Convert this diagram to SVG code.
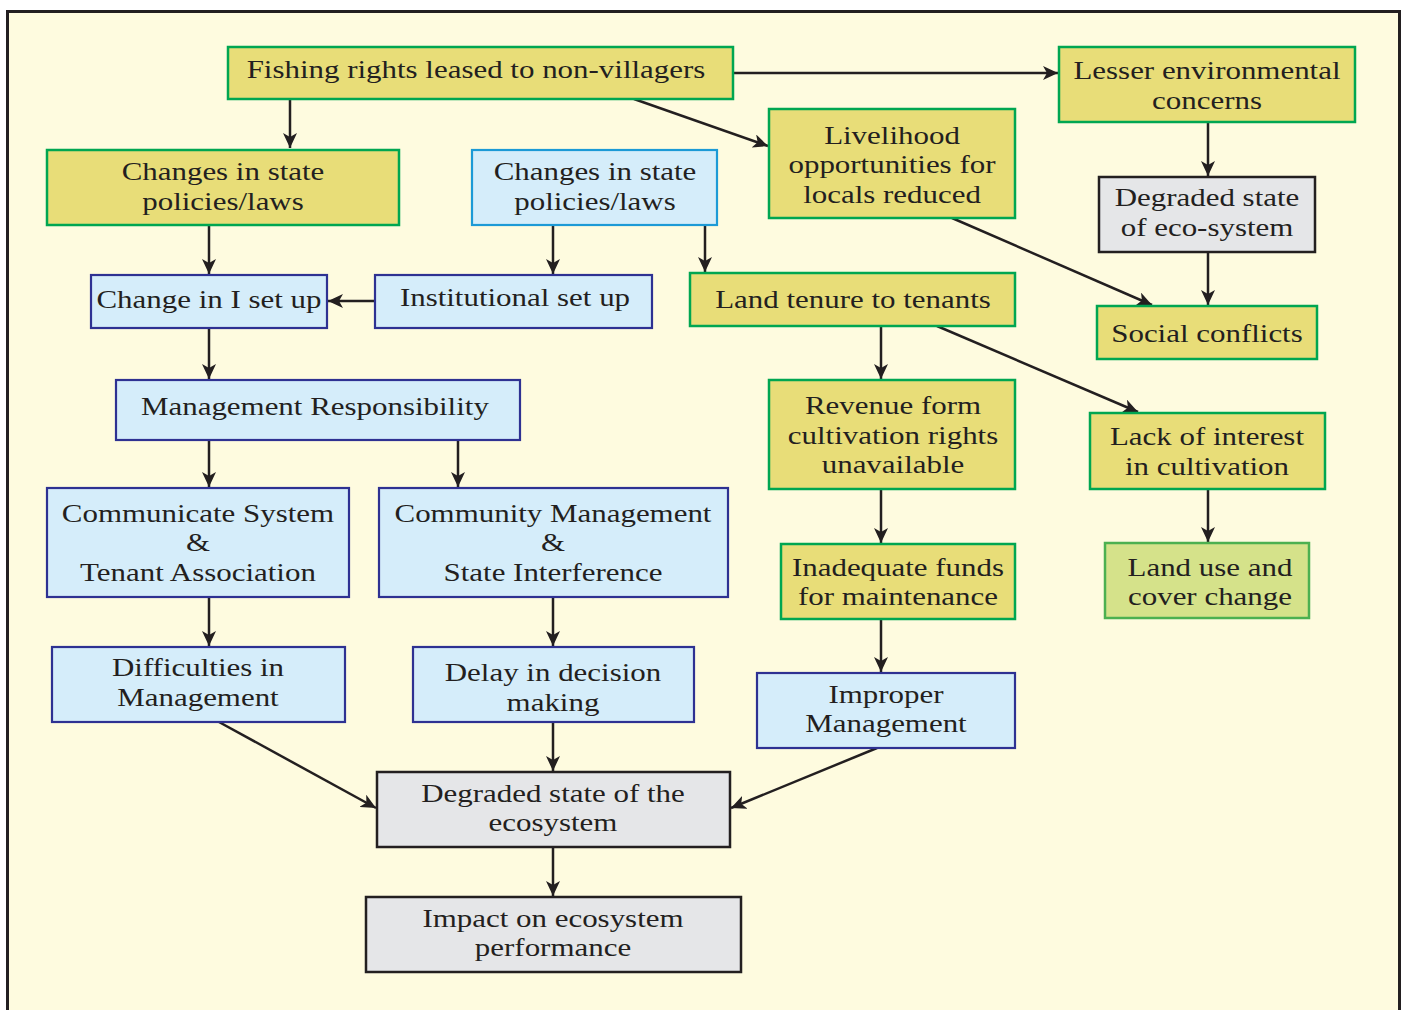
<svg xmlns="http://www.w3.org/2000/svg" width="1403" height="1010" viewBox="0 0 1403 1010">
<defs>
<marker id="ah" markerUnits="userSpaceOnUse" markerWidth="16" markerHeight="14" refX="15" refY="7" orient="auto">
<path d="M0,0 L15,7 L0,14 L4,7 Z" fill="#231f20"/>
</marker>
<style>
.y{fill:#e8dd78;stroke:#00a651;stroke-width:2.5}
.b{fill:#d5edfa;stroke:#2e3192;stroke-width:2.2}
.c{fill:#d5edfa;stroke:#1c9ad6;stroke-width:2.2}
.g{fill:#e5e6e8;stroke:#231f20;stroke-width:2.5}
.l{fill:#d5e28a;stroke:#4cb050;stroke-width:2.5}
text{font-family:"Liberation Serif","Times New Roman",serif;font-size:26px;fill:#231f20;text-anchor:middle;transform-box:fill-box;transform-origin:center;transform:scaleX(1.19)}
#edges line{stroke:#231f20;stroke-width:2.5;marker-end:url(#ah)}
</style>
</defs>
<rect x="0" y="0" width="1403" height="1010" fill="#ffffff"/>
<rect x="7.5" y="11.5" width="1392" height="1010" fill="#fefbdf" stroke="#231f20" stroke-width="3"/>

<g id="edges">
<line x1="290" y1="99" x2="290" y2="148"/>
<line x1="733" y1="73" x2="1058" y2="73"/>
<line x1="634" y1="99" x2="768" y2="146"/>
<line x1="1208" y1="122" x2="1208" y2="176"/>
<line x1="1208" y1="252" x2="1208" y2="305"/>
<line x1="952" y1="218" x2="1152" y2="305"/>
<line x1="209" y1="225" x2="209" y2="274"/>
<line x1="553" y1="225" x2="553" y2="274"/>
<line x1="705" y1="225" x2="705" y2="272"/>
<line x1="375" y1="301" x2="328" y2="301"/>
<line x1="209" y1="328" x2="209" y2="379"/>
<line x1="209" y1="440" x2="209" y2="487"/>
<line x1="458" y1="440" x2="458" y2="487"/>
<line x1="881" y1="326" x2="881" y2="379"/>
<line x1="937" y1="326" x2="1138" y2="412"/>
<line x1="881" y1="489" x2="881" y2="543"/>
<line x1="1208" y1="489" x2="1208" y2="542"/>
<line x1="881" y1="619" x2="881" y2="672"/>
<line x1="209" y1="597" x2="209" y2="646"/>
<line x1="553" y1="597" x2="553" y2="646"/>
<line x1="219" y1="722" x2="376" y2="808"/>
<line x1="553" y1="722" x2="553" y2="771"/>
<line x1="877" y1="748" x2="731" y2="808"/>
<line x1="553" y1="847" x2="553" y2="896"/>
</g>

<g id="n1"><rect class="y" x="228" y="47" width="505" height="52"/><text x="476" y="78">Fishing rights leased to non-villagers</text></g>
<g id="n2"><rect class="y" x="1059" y="47" width="296" height="75"/><text x="1207" y="79">Lesser environmental</text><text x="1207" y="109">concerns</text></g>
<g id="n3"><rect class="y" x="47" y="150" width="352" height="75"/><text x="223" y="180">Changes in state</text><text x="223" y="210">policies/laws</text></g>
<g id="n4"><rect class="c" x="472" y="150" width="245" height="75"/><text x="595" y="180">Changes in state</text><text x="595" y="210">policies/laws</text></g>
<g id="n5"><rect class="y" x="769" y="109" width="246" height="109"/><text x="892" y="144">Livelihood</text><text x="892" y="173">opportunities for</text><text x="892" y="203">locals reduced</text></g>
<g id="n6"><rect class="g" x="1099" y="177" width="216" height="75"/><text x="1207" y="206">Degraded state</text><text x="1207" y="236">of eco-system</text></g>
<g id="n7"><rect class="b" x="91" y="275" width="236" height="53"/><text x="209" y="308">Change in I set up</text></g>
<g id="n8"><rect class="b" x="375" y="275" width="277" height="53"/><text x="515" y="306">Institutional set up</text></g>
<g id="n9"><rect class="y" x="690" y="273" width="325" height="53"/><text x="853" y="308">Land tenure to tenants</text></g>
<g id="n10"><rect class="y" x="1097" y="306" width="220" height="53"/><text x="1207" y="342">Social conflicts</text></g>
<g id="n11"><rect class="b" x="116" y="380" width="404" height="60"/><text x="315" y="415">Management Responsibility</text></g>
<g id="n12"><rect class="y" x="769" y="380" width="246" height="109"/><text x="893" y="414">Revenue form</text><text x="893" y="444">cultivation rights</text><text x="893" y="473">unavailable</text></g>
<g id="n13"><rect class="y" x="1090" y="413" width="235" height="76"/><text x="1207" y="445">Lack of interest</text><text x="1207" y="475">in cultivation</text></g>
<g id="n14"><rect class="b" x="47" y="488" width="302" height="109"/><text x="198" y="522">Communicate System</text><text x="198" y="551">&amp;</text><text x="198" y="581">Tenant Association</text></g>
<g id="n15"><rect class="b" x="379" y="488" width="349" height="109"/><text x="553" y="522">Community Management</text><text x="553" y="551">&amp;</text><text x="553" y="581">State Interference</text></g>
<g id="n16"><rect class="y" x="781" y="544" width="234" height="75"/><text x="898" y="576">Inadequate funds</text><text x="898" y="605">for maintenance</text></g>
<g id="n17"><rect class="l" x="1105" y="543" width="204" height="75"/><text x="1210" y="576">Land use and</text><text x="1210" y="605">cover change</text></g>
<g id="n18"><rect class="b" x="52" y="647" width="293" height="75"/><text x="198" y="676">Difficulties in</text><text x="198" y="706">Management</text></g>
<g id="n19"><rect class="b" x="413" y="647" width="281" height="75"/><text x="553" y="681">Delay in decision</text><text x="553" y="711">making</text></g>
<g id="n20"><rect class="b" x="757" y="673" width="258" height="75"/><text x="886" y="703">Improper</text><text x="886" y="732">Management</text></g>
<g id="n21"><rect class="g" x="377" y="772" width="353" height="75"/><text x="553" y="802">Degraded state of the</text><text x="553" y="831">ecosystem</text></g>
<g id="n22"><rect class="g" x="366" y="897" width="375" height="75"/><text x="553" y="927">Impact on ecosystem</text><text x="553" y="956">performance</text></g>
</svg>
